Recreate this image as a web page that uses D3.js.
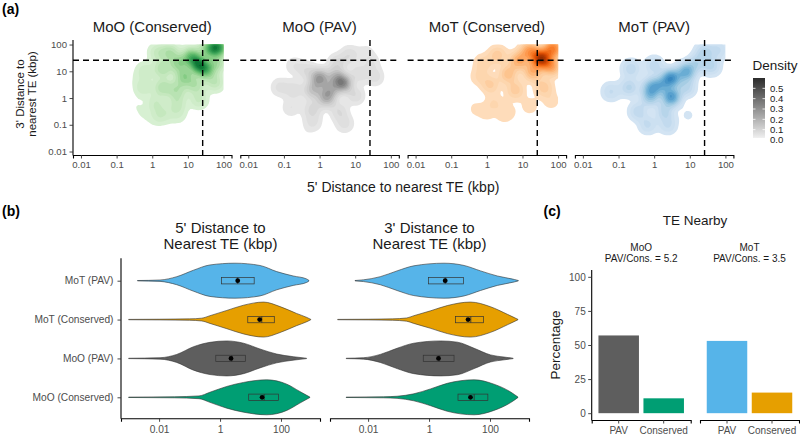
<!DOCTYPE html>
<html><head><meta charset="utf-8">
<script src="https://cdn.jsdelivr.net/npm/d3@7/dist/d3.min.js"></script>
<style>
body{margin:0;background:#fff;}
svg{display:block;}
text{font-family:"Liberation Sans",Arial,Helvetica,sans-serif;}
</style></head>
<body>
<svg id="chart" width="800" height="438" viewBox="0 0 800 438"></svg>
<script>
// ================= DATA =================
// (a) 2D density panels
const densityTitles = ["MoO (Conserved)", "MoO (PAV)", "MoT (Conserved)", "MoT (PAV)"];
// kernel points: [log10 5' distance (kbp), log10 3' distance (kbp), weight]
const kernelsMoOConserved = [
  [1.85,1.9,3],[1.6,1.85,2],[1.3,1.25,3],[1.5,1.05,2],[1.1,1.55,2],[0.75,1.3,1.5],
  [0.9,0.8,1.5],[0.5,1.7,1],[0.15,1.7,0.6],[0.3,1.1,1],[-0.2,1.0,0.5],[-0.25,0.4,0.5],
  [0.3,0.4,1],[0.7,0.3,1],[1.2,0.5,1],[1.75,0.6,0.8],[1.8,1.3,1.2],[1.3,-0.05,0.6],
  [0.7,-0.2,0.6],[0.1,-0.2,0.5],[0.3,-0.6,0.45],[0.7,-0.6,0.35],[-0.7,0.78,0.08],
  [-0.42,-0.26,0.1],[-0.28,-0.67,0.1],[0.1,-0.72,0.2]
];
const kernelsMoOPAV = [
  [0.0,0.75,2],[0.66,0.55,2.2],[0.2,0.0,1.6],[-0.18,0.3,1.2],[0.45,0.8,1.2],[0.3,0.35,1.2],
  [0.84,1.6,0.5],[0.5,1.3,0.6],[-0.7,1.2,0.3],[-0.35,1.0,0.5],[-1.1,0.4,0.4],[-0.7,0.3,0.5],
  [1.1,0.9,0.5],[1.55,0.8,0.4],[1.45,1.3,0.3],[1.0,0.1,0.5],[0.55,-0.5,0.5],[0.7,-0.95,0.4],
  [-0.2,-0.9,0.4],[-0.2,-0.4,0.6],[-0.8,-0.35,0.3],[-0.45,-1.5,0.08],[1.3,1.7,0.2]
];
const kernelsMoTConserved = [
  [1.52,1.48,3.5],[1.85,1.85,2],[1.2,1.75,1.5],[1.8,1.2,1.5],[1.3,1.0,1.2],[0.9,1.4,1.2],
  [0.6,0.9,0.8],[0.3,1.6,0.6],[-0.1,1.3,0.4],[-0.2,0.8,0.3],[0.1,0.5,0.5],[0.8,0.3,0.6],
  [1.6,0.4,0.6],[0.2,-0.2,0.3],[-0.3,-0.4,0.14],[0.6,-0.5,0.18],[1.2,-0.3,0.2],[1.8,-0.1,0.2],
  [0.0,-0.62,0.12],[0.45,-0.7,0.1]
];
const kernelsMoTPAV = [
  [0.48,0.74,2],[0.48,0.05,1.8],[0.9,0.98,1.5],[-0.08,0.42,1.2],[-0.1,0.05,1],[0.2,0.5,1],
  [1.41,1.73,0.6],[1.6,1.2,0.6],[1.2,1.3,0.6],[0.9,0.4,0.6],[-0.65,1.1,0.5],[-1.21,0.24,0.4],
  [-0.7,0.4,0.6],[-0.45,-0.5,0.5],[-0.18,-1.0,0.4],[0.38,-1.0,0.4],[0.3,-0.5,0.6],
  [0.95,-0.64,0.1],[0.0,1.2,0.5],[1.8,1.8,0.4]
];
const densityPeaks = [0.55, 0.37, 0.6, 0.4];
const densityLevels = [0.015,0.04,0.07,0.1,0.14,0.18,0.22,0.26,0.3,0.34,0.38,0.42,0.46,0.5,0.54,0.58];
const distanceTicksA = [0.01, 0.1, 1, 10, 100];
const cutoffKbp = 26;
const legendTicks = [0, 0.1, 0.2, 0.3, 0.4, 0.5];

// (b) violins
const violinCategories = ["MoT (PAV)", "MoT (Conserved)", "MoO (PAV)", "MoO (Conserved)"];
const violinTitles = [["5' Distance to", "Nearest TE (kbp)"], ["3' Distance to", "Nearest TE (kbp)"]];
// outlines: [log10 kbp, relative half width]
const violin5MoTPAV = [[-2.71,0.01],[-1.97,0.04],[-1.42,0.23],[-0.87,0.6],[-0.33,0.9],[0.49,1.0],[1.31,0.87],[1.86,0.52],[2.4,0.27],[2.84,0.1],[2.92,0.01]];
const violin5MoTCons = [[-3.0,0.01],[-2.0,0.02],[-1.0,0.04],[-0.6,0.08],[-0.33,0.22],[0.22,0.52],[0.77,0.82],[1.43,1.0],[1.97,0.74],[2.51,0.35],[2.85,0.12],[2.98,0.01]];
const violin5MoOPAV = [[-3.0,0.01],[-1.97,0.04],[-1.42,0.23],[-0.87,0.67],[-0.33,0.92],[0.22,1.0],[0.77,0.87],[1.31,0.54],[1.86,0.25],[2.4,0.1],[2.84,0.01]];
const violin5MoOCons = [[-3.0,0.01],[-1.5,0.03],[-0.69,0.08],[-0.33,0.29],[0.22,0.62],[0.77,0.85],[1.53,1.0],[2.19,0.75],[2.62,0.33],[2.95,0.01]];
const violin3MoTPAV = [[-2.43,0.01],[-2.15,0.05],[-1.6,0.23],[-1.05,0.56],[-0.5,0.85],[0.49,1.0],[1.15,0.87],[1.69,0.56],[2.24,0.27],[2.8,0.07],[2.93,0.01]];
const violin3MoTCons = [[-3.0,0.01],[-2.0,0.02],[-1.2,0.04],[-0.74,0.09],[-0.5,0.22],[0.05,0.5],[0.6,0.8],[1.36,1.0],[2.02,0.73],[2.57,0.3],[2.92,0.01]];
const violin3MoOPAV = [[-2.72,0.01],[-2.15,0.04],[-1.6,0.23],[-1.05,0.58],[-0.5,0.87],[0.38,1.0],[0.93,0.93],[1.48,0.58],[2.02,0.2],[2.46,0.08],[2.76,0.01]];
const violin3MoOCons = [[-2.72,0.01],[-1.5,0.03],[-1.05,0.06],[-0.5,0.2],[0.05,0.48],[0.6,0.8],[1.48,1.0],[2.13,0.75],[2.68,0.3],[2.92,0.01]];
// boxplots: [q1, median, q3, mean] in log10 kbp (category order above)
const box5 = [[0.05,0.58,1.12,0.58],[0.91,1.37,1.78,1.30],[-0.14,0.38,0.83,0.36],[0.94,1.45,1.92,1.38]];
const box3 = [[-0.02,0.53,1.13,0.53],[0.87,1.37,1.79,1.28],[-0.19,0.33,0.82,0.31],[0.95,1.48,1.93,1.36]];
const distanceTicksB = [0.01, 1, 100];

// (c) bars
const barGroups = ["MoO", "MoT"];
const barRatios = ["5.2", "3.5"];
const barCategories = ["PAV", "Conserved"];
const barPercentMoO = [57, 10.9];
const barPercentMoT = [53, 15.1];
const percentTicks = [0, 25, 50, 75, 100];

// ================= STYLE =================
const densityInterp = [d3.interpolateGreens, d3.interpolateGreys, d3.interpolateOranges, d3.interpolateBlues];
const violinColors = ["#56B4E9", "#E69F00", "#5E5E5E", "#009E73"];
const barColors = [["#5E5E5E", "#009E73"], ["#56B4E9", "#E69F00"]];
const TICK_COL = "#4D4D4D";
const AXIS_W = 1.1;

const svg = d3.select("#chart");

function styleAxis(g, fs) {
  g.select(".domain").attr("stroke", "#000").attr("stroke-width", AXIS_W);
  g.selectAll(".tick line").attr("stroke", "#333").attr("stroke-width", 0.9);
  g.selectAll(".tick text").attr("fill", TICK_COL).style("font-size", fs + "px")
    .style("font-family", '"Liberation Sans",Arial,sans-serif');
}

// ================= (a) =================
svg.append("text").attr("x", 2).attr("y", 14).style("font-size", "14px").style("font-weight", "bold").text("(a)");

const W_A = 158.5, TOP_A = 40, BOT_A = 155;
const leftA = i => 73 + i * 167.3;
const xA = d3.scaleLog().domain([Math.pow(10, -2.224), Math.pow(10, 2.224)]).range([0, W_A]);
const yA = d3.scaleLog().domain([Math.pow(10, -2.13), Math.pow(10, 2.17)]).range([BOT_A, TOP_A]);
const kernels = [kernelsMoOConserved, kernelsMoOPAV, kernelsMoTConserved, kernelsMoTPAV];
const fmt = d3.format("~g");
const levelColorT = L => 0.16 + 0.8 * L / 0.6;

const defs = svg.append("defs");

densityTitles.forEach((title, i) => {
  const g = svg.append("g").attr("transform", `translate(${leftA(i)},0)`);
  const clipId = "clipA" + i;
  defs.append("clipPath").attr("id", clipId).append("rect")
    .attr("x", 0).attr("y", yA(100)).attr("width", xA(100)).attr("height", BOT_A - yA(100));

  const pts = kernels[i];
  const dens = d3.contourDensity()
    .x(d => xA(Math.pow(10, d[0])))
    .y(d => yA(Math.pow(10, d[1])))
    .weight(d => d[2])
    .size([Math.ceil(W_A) + 2, BOT_A + 5])
    .cellSize(2)
    .bandwidth(5);
  let max;
  if (typeof dens.contours === "function") {
    max = dens.contours(pts).max;
  } else {
    const cs = dens.thresholds(400)(pts);
    max = d3.max(cs.filter(c => c.coordinates.length), c => c.value);
  }
  const peak = densityPeaks[i];
  const levels = densityLevels.filter(L => L < peak);
  const contours = dens.thresholds(levels.map(L => L / peak * max))(pts);
  const dg = g.append("g").attr("clip-path", `url(#${clipId})`);
  dg.selectAll("path").data(contours).join("path")
    .attr("d", d3.geoPath())
    .attr("fill", (c, k) => densityInterp[i](levelColorT(levels[k])))
    .attr("stroke", "none");

  // dashed cutoffs
  g.append("line").attr("x1", xA(cutoffKbp)).attr("x2", xA(cutoffKbp)).attr("y1", TOP_A).attr("y2", BOT_A)
    .attr("stroke", "#000").attr("stroke-width", 1.4).attr("stroke-dasharray", "6,4");
  g.append("line").attr("x1", 0).attr("x2", W_A).attr("y1", yA(cutoffKbp)).attr("y2", yA(cutoffKbp))
    .attr("stroke", "#000").attr("stroke-width", 1.4).attr("stroke-dasharray", "6,4");

  // x axis
  const ax = g.append("g").attr("transform", `translate(0,${BOT_A})`)
    .call(d3.axisBottom(xA).tickValues(distanceTicksA).tickFormat(fmt).tickSizeOuter(0).tickSize(3.5).tickPadding(3));
  styleAxis(ax, 9.6);

  g.append("text").attr("x", W_A / 2).attr("y", 32).attr("text-anchor", "middle")
    .style("font-size", "15px").attr("fill", "#1a1a1a").text(title);
});
{
  const ay = svg.append("g").attr("transform", `translate(${leftA(0)},0)`)
    .call(d3.axisLeft(yA).tickValues(distanceTicksA).tickFormat(fmt).tickSizeOuter(0).tickSize(3.5).tickPadding(2.5));
  styleAxis(ay, 9.6);
  ay.select(".domain").attr("d", `M0,${BOT_A + 0.5}V${TOP_A}`);
}
svg.append("text").attr("transform", "translate(23.5,94) rotate(-90)").attr("text-anchor", "middle")
  .style("font-size", "11.5px").attr("fill", "#1a1a1a").text("3' Distance to");
svg.append("text").attr("transform", "translate(36,94) rotate(-90)").attr("text-anchor", "middle")
  .style("font-size", "11.5px").attr("fill", "#1a1a1a").text("nearest TE (kbp)");
svg.append("text").attr("x", (leftA(0) + leftA(3) + W_A) / 2).attr("y", 191.5).attr("text-anchor", "middle")
  .style("font-size", "14px").attr("fill", "#1a1a1a").text("5' Distance to nearest TE (kbp)");

// legend
{
  const lg = defs.append("linearGradient").attr("id", "densGrad").attr("x1", 0).attr("x2", 0).attr("y1", 1).attr("y2", 0);
  lg.append("stop").attr("offset", "0%").attr("stop-color", "#efefef");
  lg.append("stop").attr("offset", "100%").attr("stop-color", "#2b2b2b");
  const ly = d3.scaleLinear().domain([0, 0.6]).range([140, 78]);
  svg.append("text").attr("x", 752.5).attr("y", 70).style("font-size", "13.5px").attr("fill", "#1a1a1a").text("Density");
  svg.append("rect").attr("x", 753).attr("y", ly(0.6)).attr("width", 12).attr("height", ly(0.02) - ly(0.6)).attr("fill", "url(#densGrad)");
  legendTicks.forEach(v => {
    svg.append("line").attr("x1", 753).attr("x2", 755.5).attr("y1", ly(v)).attr("y2", ly(v)).attr("stroke", "#fff").attr("stroke-width", 0.8);
    svg.append("line").attr("x1", 762.5).attr("x2", 765).attr("y1", ly(v)).attr("y2", ly(v)).attr("stroke", "#fff").attr("stroke-width", 0.8);
    svg.append("text").attr("x", 770).attr("y", ly(v) + 3.3).style("font-size", "9.6px").attr("fill", "#1a1a1a").text(v.toFixed(1));
  });
}

// ================= (b) =================
svg.append("text").attr("x", 2).attr("y", 216).style("font-size", "14px").style("font-weight", "bold").text("(b)");
const W_B = 199, TOP_B = 258.3, BOT_B = 418.3;
const leftB = [121, 330];
const xB = d3.scaleLog().domain([Math.pow(10, -3.25), Math.pow(10, 3.28)]).range([0, W_B]);
const yB = d3.scalePoint().domain(violinCategories).range([280.7, 397.3]);
const HW = 17.5;
const violinsB = [[violin5MoTPAV, violin5MoTCons, violin5MoOPAV, violin5MoOCons],
                  [violin3MoTPAV, violin3MoTCons, violin3MoOPAV, violin3MoOCons]];
const boxesB = [box5, box3];
const vArea = d3.area().x(d => xB(Math.pow(10, d[0]))).y0(d => -d[1] * HW).y1(d => d[1] * HW).curve(d3.curveMonotoneX);

[0, 1].forEach(p => {
  const g = svg.append("g").attr("transform", `translate(${leftB[p]},0)`);
  violinCategories.forEach((cat, k) => {
    const cg = g.append("g").attr("transform", `translate(0,${yB(cat)})`);
    cg.append("path").attr("d", vArea(violinsB[p][k])).attr("fill", violinColors[k])
      .attr("stroke", "#333").attr("stroke-width", 0.6);
    const b = boxesB[p][k];
    const bx = v => xB(Math.pow(10, v));
    cg.append("rect").attr("x", bx(b[0])).attr("y", -3.2).attr("width", bx(b[2]) - bx(b[0])).attr("height", 6.4)
      .attr("fill", "none").attr("stroke", "#333").attr("stroke-width", 0.7);
    cg.append("line").attr("x1", bx(b[1])).attr("x2", bx(b[1])).attr("y1", -3.2).attr("y2", 3.2)
      .attr("stroke", "#333").attr("stroke-width", 0.9);
    cg.append("circle").attr("cx", bx(b[3])).attr("cy", 0).attr("r", 2.4).attr("fill", "#000");
  });
  const ax = g.append("g").attr("transform", `translate(0,${BOT_B})`)
    .call(d3.axisBottom(xB).tickValues(distanceTicksB).tickFormat(fmt).tickSizeOuter(0).tickSize(3.5).tickPadding(3.5));
  styleAxis(ax, 10.2);
  violinTitles[p].forEach((t, li) => {
    g.append("text").attr("x", W_B / 2).attr("y", 233 + li * 15.5).attr("text-anchor", "middle")
      .style("font-size", "15px").attr("fill", "#1a1a1a").text(t);
  });
});
{
  const ay = svg.append("g").attr("transform", `translate(${leftB[0]},0)`)
    .call(d3.axisLeft(yB).tickSizeOuter(0).tickSize(3.5).tickPadding(4));
  styleAxis(ay, 10.2);
  ay.select(".domain").attr("d", `M0,${BOT_B + 0.5}V${TOP_B}`);
}

// ================= (c) =================
svg.append("text").attr("x", 543.5).attr("y", 216).style("font-size", "14px").style("font-weight", "bold").text("(c)");
svg.append("text").attr("x", 695).attr("y", 225).attr("text-anchor", "middle").style("font-size", "13.5px").attr("fill", "#1a1a1a").text("TE Nearby");
const leftC = [591.7, 700], W_C = 99, TOP_C = 270, BOT_C = 420;
const yC = d3.scaleLinear().domain([-5, 105]).range([BOT_C, TOP_C]);
const xC = d3.scaleBand().domain(barCategories).range([0, W_C]).paddingInner(0.1).paddingOuter(0.15);
const barData = [barPercentMoO, barPercentMoT];
barGroups.forEach((grp, p) => {
  const g = svg.append("g").attr("transform", `translate(${leftC[p]},0)`);
  g.selectAll("rect").data(barData[p]).join("rect")
    .attr("x", (d, k) => xC(barCategories[k])).attr("width", xC.bandwidth())
    .attr("y", d => yC(d)).attr("height", d => yC(0) - yC(d))
    .attr("fill", (d, k) => barColors[p][k]);
  const ax = g.append("g").attr("transform", `translate(0,${BOT_C})`)
    .call(d3.axisBottom(xC).tickSizeOuter(0).tickSize(3.5).tickPadding(3.5));
  styleAxis(ax, 10);
  g.append("text").attr("x", W_C / 2).attr("y", 250.5).attr("text-anchor", "middle").style("font-size", "10px").attr("fill", "#1a1a1a").text(grp);
  g.append("text").attr("x", W_C / 2).attr("y", 262).attr("text-anchor", "middle").style("font-size", "10px").attr("fill", "#1a1a1a").text(`PAV/Cons. = ${barRatios[p]}`);
});
{
  const ay = svg.append("g").attr("transform", `translate(${leftC[0]},0)`)
    .call(d3.axisLeft(yC).tickValues(percentTicks).tickSizeOuter(0).tickSize(3.5).tickPadding(2.5));
  styleAxis(ay, 10);
  ay.select(".domain").attr("d", `M0,${BOT_C + 0.5}V${TOP_C}`);
}
svg.append("text").attr("transform", "translate(560,345) rotate(-90)").attr("text-anchor", "middle")
  .style("font-size", "13.5px").attr("fill", "#1a1a1a").text("Percentage");
</script>
</body></html>
